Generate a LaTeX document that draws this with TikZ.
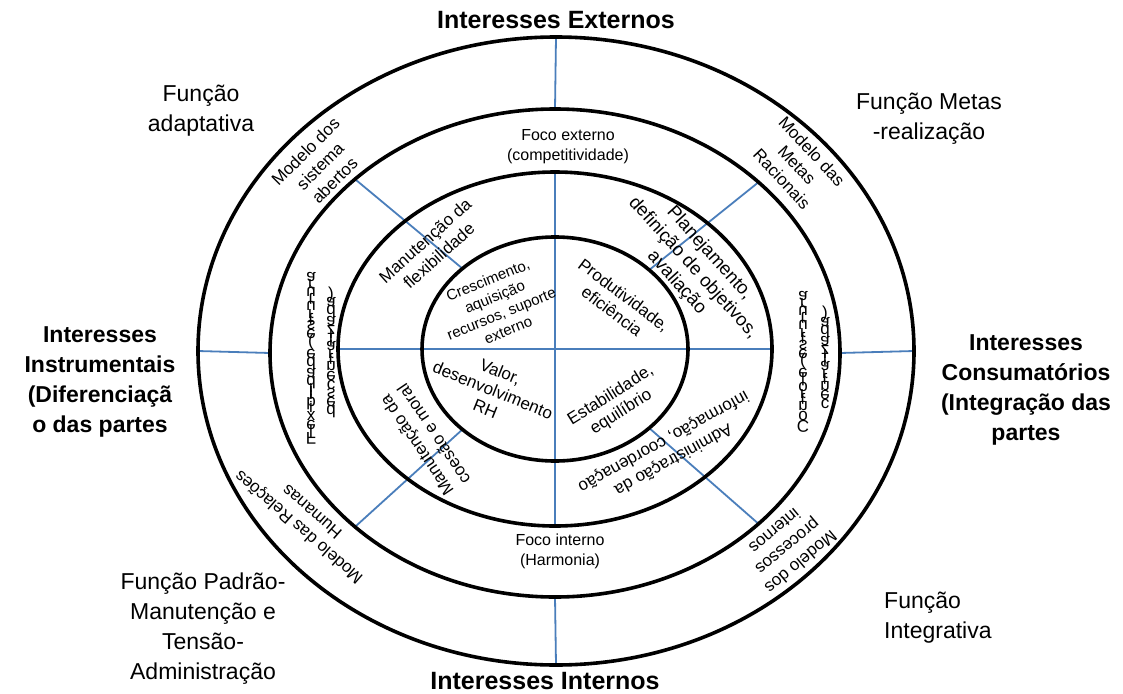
\documentclass[tikz,border=0pt]{standalone}
\usepackage{fontspec}
\setmainfont{Liberation Sans}
\usepackage{graphicx}
\usetikzlibrary{shapes.geometric}
\definecolor{lineblue}{HTML}{4A7EBB}
\pgfdeclarelayer{paper}
\pgfdeclarelayer{lines}
\pgfsetlayers{paper,lines,main}
\newbox\vscolbox
\newbox\vsglbox
\newdimen\vsdim
\makeatletter
\newcommand\vstackchars[1]{%
  \setbox\vscolbox\vbox{}%
  \vs@loop#1\relax
  \box\vscolbox}
\def\vs@loop#1{\ifx\relax#1\else\vs@add{#1}\expandafter\vs@loop\fi}
\def\vs@add#1{%
  \setbox\vsglbox\hbox{#1}%
  \vsdim=\wd\vsglbox
  \setbox\vsglbox\hbox to 1.1em{\hss\scalebox{1}[-1]{#1}\hss}%
  \setbox\vsglbox\vbox to \vsdim{\vss\box\vsglbox\vss}%
  \setbox\vscolbox\vbox{\offinterlineskip\box\vsglbox\unvbox\vscolbox}}
\makeatother
\begin{document}
\begin{tikzpicture}[x=1pt,y=-1pt,
  ring/.style={draw=black, line width=3.6pt, ellipse, inner sep=0pt, outer sep=0pt},
  bl/.style={draw=lineblue, line width=1.8pt},
  lab/.style={font=\fontsize{17}{20.5}\selectfont, align=center, inner sep=0pt},
  foco/.style={font=\fontsize{16}{20}\selectfont, align=center, inner sep=0pt},
  qlab/.style={font=\fontsize{17}{20}\selectfont, align=center, inner sep=0pt},
  big/.style={font=\fontsize{23}{30}\selectfont, align=center, inner sep=0pt},
  bigb/.style={font=\bfseries\fontsize{23}{30}\selectfont, align=center, inner sep=0pt},
  vcol/.style={font=\fontsize{17}{17}\selectfont, inner sep=0pt}]
\begin{pgfonlayer}{paper}
\fill[white] (0,0) rectangle (1123,693);
\end{pgfonlayer}
\useasboundingbox (0,0) rectangle (1123,693);
% ellipses
\node[ring, minimum width=716pt, minimum height=628pt] (E1) at (556,351) {};
\node[ring, minimum width=570pt, minimum height=488pt] (E2) at (555,353) {};
\node[ring, minimum width=434pt, minimum height=354pt] (E3) at (555,349) {};
\node[ring, minimum width=266pt, minimum height=224pt] (E4) at (555,349) {};
% blue dividers
\begin{pgfonlayer}{lines}
\draw[bl] (E1.north) -- (E2.north);
\draw[bl] (E3.north) -- (E3.south);
\draw[bl] (E2.south) -- (E1.south);
\draw[bl] (E1.west) -- (E2.west);
\draw[bl] (E3.west) -- (E3.east);
\draw[bl] (E2.east) -- (E1.east);
\draw[bl] (E2.139.5) -- (E4.139.5);
\draw[bl] (E2.40.5) -- (E4.40.5);
\draw[bl] (E2.-139.5) -- (E4.-139.5);
\draw[bl] (E2.-40.5) -- (E4.-40.5);
\end{pgfonlayer}
% outside labels
\node[bigb, font=\bfseries\fontsize{25}{30}\selectfont] (IE) at (556,20) {Interesses Externos};
\node[bigb, font=\bfseries\fontsize{25}{30}\selectfont] (II) at (545,681) {Interesses Internos};
\node[big] (FA) at (201,111) {Função\\adaptativa};
\node[big] (FM) at (929,119) {Função Metas\\-realização};
\node[bigb] (IIn) at (100,382) {Interesses\\Instrumentais\\(Diferenciaçã\\o das partes};
\node[bigb] (IC) at (1026,390) {Interesses\\Consumatórios\\(Integração das\\partes};
\node[big] (FP) at (203,629) {Função Padrão-\\Manutenção e\\Tensão-\\Administração};
\node[big, align=left, anchor=west] (FI) at (884,618) {Função\\Integrativa};
% ring 1
\node[lab, rotate=45] (M1) at (320,166) {Modelo dos\\sistema\\abertos};
\node[lab, rotate=-47] (M2) at (797,165) {Modelo das\\Metas\\Racionais};
\node[lab, rotate=139] (M3) at (305,520) {Modelo das Relações\\Humanas};
\node[lab, rotate=-140] (M4) at (788,547) {Modelo dos\\processos\\internos};
% ring 2
\node[foco] (FE) at (568,147) {Foco externo\\(competitividade)};
\node[foco] (FIn) at (560,551) {Foco interno\\(Harmonia)};
\node[vcol] (C1) at (311,358) {\vstackchars{Flexibilidade~(estrutura}};
\node[vcol] (C2) at (331,354) {\vstackchars{descentralizada)}};
\node[vcol] (C3) at (803,362) {\vstackchars{Controle~(estrutura}};
\node[vcol] (C4) at (825,360) {\vstackchars{centralizada)}};
% ring 3
\node[lab, rotate=42] (R1) at (432,248) {Manutenção da\\flexibilidade};
\node[lab, font=\fontsize{18.5}{22}\selectfont, rotate=-48] (R2) at (693,268) {Planejamento,\\definição de objetivos,\\avaliação};
\node[lab, rotate=124] (R3) at (425,440) {Manutenção da\\coesão e moral};
\node[lab, rotate=-151] (R4) at (668,450) {Administração da\\informação, coordenação};
% inner quadrants
\node[qlab, font=\fontsize{15}{18}\selectfont, rotate=22] (Q1) at (498,305) {Crescimento,\\aquisição\\recursos, suporte\\externo};
\node[qlab, rotate=-37] (Q2) at (618,303) {Produtividade,\\eficiência};
\node[qlab, rotate=-22] (Q3) at (493,390) {Valor,\\desenvolvimento\\RH};
\node[qlab, rotate=32] (Q4) at (616,404) {Estabilidade,\\equilíbrio};
\end{tikzpicture}
\end{document}
